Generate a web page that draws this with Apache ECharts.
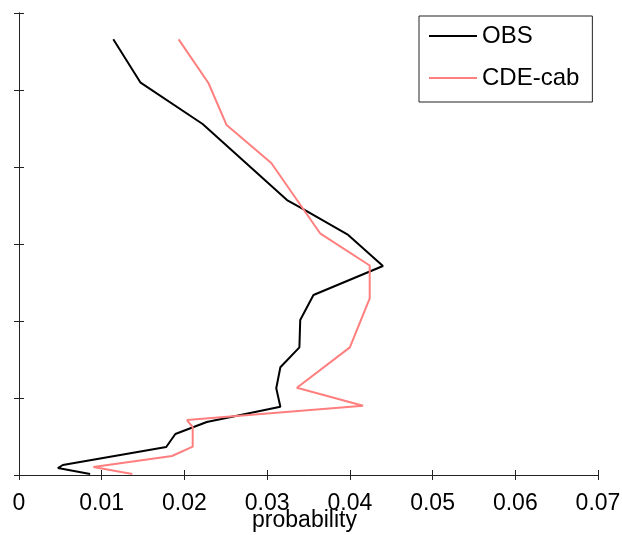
<!DOCTYPE html>
<html>
<head>
<meta charset="utf-8">
<script src="https://cdn.jsdelivr.net/npm/echarts@6/dist/echarts.min.js"></script>
<style>
html,body{margin:0;padding:0;background:#fff;}
#c{width:622px;height:535px;}
</style>
</head>
<body>
<div id="c"></div>
<script>
// x tick labels
var xTicks = [0, 0.01, 0.02, 0.03, 0.04, 0.05, 0.06, 0.07];
// OBS: probability values and vertical levels
var obsProb = [0.0114, 0.0147, 0.0222, 0.0324, 0.0342, 0.0398, 0.0440, 0.0356, 0.0340, 0.0339, 0.0316, 0.0311, 0.0316, 0.0227, 0.0189, 0.0178, 0.0053, 0.0047, 0.0086];
var obsLevel = [5.658, 5.095, 4.558, 3.571, 3.464, 3.117, 2.714, 2.338, 2.013, 1.658, 1.399, 1.126, 0.887, 0.688, 0.532, 0.364, 0.130, 0.091, 0.013];
// CDE-cab
var cdeProb = [0.0193, 0.0229, 0.0251, 0.0305, 0.0364, 0.0424, 0.0424, 0.0400, 0.0336, 0.0416, 0.0203, 0.0210, 0.0210, 0.0185, 0.0090, 0.0137];
var cdeLevel = [5.658, 5.091, 4.545, 4.052, 3.139, 2.721, 2.295, 1.658, 1.134, 0.900, 0.714, 0.623, 0.368, 0.247, 0.104, 0.013];

function pairs(xs, ys){ return xs.map(function(v,i){ return [v, ys[i]]; }); }

var axisColor = '#222';
var font = 'Liberation Sans, Arial, Helvetica, sans-serif';
var chart = echarts.init(document.getElementById('c'));
chart.setOption({
  animation: false,
  backgroundColor: '#fff',
  grid: {left: 19, top: 13, right: 24, bottom: 60, containLabel: false, outerBoundsMode: 'none'},
  legend: {
    left: 419, top: 16,
    orient: 'vertical',
    icon: 'rect',
    itemWidth: 48, itemHeight: 2,
    itemGap: 18,
    padding: [8, 13, 12, 10],
    borderColor: '#222', borderWidth: 1,
    backgroundColor: '#fff',
    borderRadius: 0,
    textStyle: {fontSize: 24, color: '#000', fontFamily: font},
    data: ['OBS', 'CDE-cab']
  },
  xAxis: [{
    type: 'value', min: 0, max: 0.07, interval: 0.01,
    position: 'bottom',
    name: 'probability', nameLocation: 'middle', nameGap: 34, nameMoveOverlap: false,
    nameTextStyle: {fontSize: 23, color: '#000', fontFamily: font, padding: [0, 8, 0, 0]},
    axisLine: {show: true, lineStyle: {color: axisColor, width: 1}},
    axisTick: {show: true, inside: true, length: 5, lineStyle: {color: axisColor}},
    axisLabel: {fontSize: 23, color: '#000', fontFamily: font, margin: 17,
      formatter: function(v){ var t = xTicks.filter(function(x){return Math.abs(x-v)<1e-9;}); return t.length ? String(+v.toFixed(2)) : ''; }},
    splitLine: {show: false}
  }, {
    type: 'value', min: 0, max: 0.07, interval: 0.01,
    position: 'top',
    axisLine: {show: true, lineStyle: {color: axisColor, width: 1}},
    axisTick: {show: true, inside: true, length: 5, lineStyle: {color: axisColor}},
    axisLabel: {show: false},
    splitLine: {show: false}
  }],
  yAxis: [{
    type: 'value', min: 0, max: 6, interval: 1,
    position: 'left',
    axisLine: {show: true, lineStyle: {color: axisColor, width: 1}},
    axisTick: {show: true, inside: true, length: 5, lineStyle: {color: axisColor}},
    axisLabel: {show: false},
    splitLine: {show: false}
  }, {
    type: 'value', min: 0, max: 6, interval: 1,
    position: 'right',
    axisLine: {show: true, lineStyle: {color: axisColor, width: 1}},
    axisTick: {show: true, inside: true, length: 5, lineStyle: {color: axisColor}},
    axisLabel: {show: false},
    splitLine: {show: false}
  }],
  series: [{
    name: 'OBS', type: 'line', showSymbol: false, symbol: 'none',
    color: '#000',
    lineStyle: {color: '#000', width: 2},
    data: pairs(obsProb, obsLevel)
  }, {
    name: 'CDE-cab', type: 'line', showSymbol: false, symbol: 'none',
    color: '#ff7f7f',
    lineStyle: {color: '#ff7f7f', width: 2},
    data: pairs(cdeProb, cdeLevel)
  }]
});
</script>
</body>
</html>
